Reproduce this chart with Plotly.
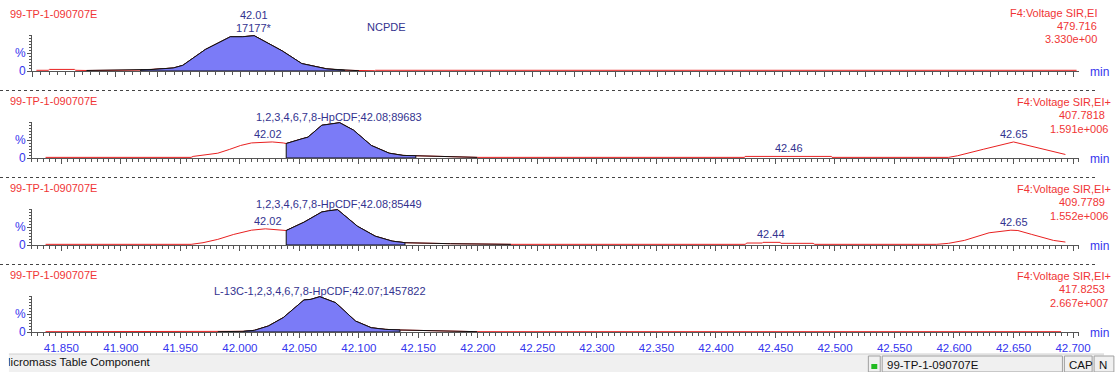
import numpy as np
import plotly.graph_objects as go

W, H = 1115, 372

# ---------------- data (retention time in min, intensity in % of panel max) -------------
p1_t = [41.829, 41.839, 41.840, 41.861, 41.862, 41.871, 41.9166, 41.927, 41.944, 41.952,
        41.971, 41.992, 42.002, 42.012, 42.0355, 42.052, 42.073, 42.088, 42.100, 42.113,
        42.114, 42.703]
p1_v = [2.0, 2.0, 4.5, 4.5, 2.0, 1.5, 2.5, 4.5, 8.5, 16.0,
        61.0, 97.0, 97.0, 100.0, 57.0, 21.0, 6.0, 2.0, 0.8, 0.8,
        2.0, 2.0]

p2_t = [41.8367, 41.959, 41.9607, 41.9706, 41.9814, 41.9914, 42.0006, 42.0097, 42.0197,
        42.0272, 42.0364, 42.0389, 42.0522, 42.0572, 42.0688, 42.0763, 42.0838, 42.0954,
        42.1104, 42.1254, 42.137, 42.1478, 42.177, 42.1994, 42.424, 42.4245, 42.497,
        42.4975, 42.5954, 42.603, 42.625, 42.650, 42.6936]
p2_v = [1.8, 1.8, 4.5, 8.2, 13.6, 24.5, 35.5, 42.7, 45.5,
        45.5, 42.7, 41.0, 54.5, 59.0, 92.7, 97.0, 100.0, 79.0,
        35.5, 13.6, 7.3, 6.4, 2.7, 1.8, 1.8, 4.5, 4.5,
        1.8, 1.8, 6.4, 25.0, 45.5, 10.0]

p3_t = [41.8367, 41.959, 41.969, 41.9814, 41.9948, 42.0097, 42.0214, 42.0289, 42.0389,
        42.0538, 42.0688, 42.0746, 42.0821, 42.0988, 42.1137, 42.1279, 42.1387, 42.177,
        42.2277, 42.4245, 42.426, 42.439, 42.4395, 42.454, 42.4545, 42.4816, 42.483,
        42.5854, 42.5954, 42.6087, 42.6295, 42.6478, 42.6537, 42.6653, 42.6836, 42.6936]
p3_v = [1.9, 1.9, 6.5, 15.9, 30.0, 42.0, 45.8, 44.0, 41.0,
        64.5, 93.5, 97.0, 100.0, 53.0, 25.0, 11.0, 6.5, 3.7,
        1.9, 1.9, 5.6, 5.6, 7.5, 7.5, 4.7, 4.7, 1.9,
        1.9, 4.7, 13.0, 34.6, 42.0, 41.0, 30.0, 13.0, 8.4]

p4_t = [41.8367, 41.9814, 42.003, 42.0122, 42.0239, 42.0364, 42.0538, 42.0597, 42.0671,
        42.0804, 42.0971, 42.1104, 42.122, 42.1345, 42.162, 42.1994, 42.690]
p4_v = [0.9, 0.9, 1.9, 4.7, 17.0, 40.6, 90.6, 92.5, 100.0,
        83.0, 31.0, 12.0, 7.5, 5.7, 3.8, 0.9, 0.9]

# integration windows: (fill start, fill end, black baseline start, black baseline end)
p1_int = (41.9166, 42.088, 41.871, 42.100)
p2_int = (42.0389, 42.1478, 42.0389, 42.1994)
p3_int = (42.0389, 42.1387, 42.0389, 42.2277)
p4_int = (42.003, 42.1345, 41.9814, 42.1994)

sample = "99-TP-1-090707E"
func = ["F4:Voltage SIR,EI", "F4:Voltage SIR,EI+", "F4:Voltage SIR,EI+", "F4:Voltage SIR,EI+"]
masses = ["479.716", "407.7818", "409.7789", "417.8253"]
maxint = ["3.330e+00", "1.591e+006", "1.552e+006", "2.667e+007"]
peak_labels = [["42.01", "17177*"],
               ["1,2,3,4,6,7,8-HpCDF;42.08;89683"],
               ["1,2,3,4,6,7,8-HpCDF;42.08;85449"],
               ["L-13C-1,2,3,4,6,7,8-HpCDF;42.07;1457822"]]
minor_peaks = [[], [("42.02", 42.0235, 45.5), ("42.46", 42.461, 4.5), ("42.65", 42.650, 45.5)],
               [("42.02", 42.0235, 45.8), ("42.44", 42.4465, 7.5), ("42.65", 42.650, 42.0)], []]
x_ticks_lab = [41.85 + 0.05 * i for i in range(18)]
status_text = "Micromass Table Component"

# ---------------- styling ----------------
FONT = "Liberation Sans, Arial, sans-serif"
RED_T = "#f03535"
RED_L = "#e82020"
NAVY = "#33338f"
BLUE = "#3535ee"
AXC = "#555555"
FILL = "#7b7bf7"

X0 = 41.85 + (32 - 62) / 1202.0
X1 = 41.85 + (1090 - 62) / 1202.0

zero_px = [71, 158, 245, 332]
top_px = [35, 122, 209, 296]


def py(p):
    return 1 - p / H


def px(p):
    return p / W


def seg(t, v, a, b):
    t = np.asarray(t, float)
    v = np.asarray(v, float)
    inner = (t > a) & (t < b)
    xs = [a] + list(t[inner]) + [b]
    ys = [float(np.interp(a, t, v))] + list(v[inner]) + [float(np.interp(b, t, v))]
    return xs, ys


def note(text, x, y, color, xanchor="left", size=11, xref="paper", yref="paper", **kw):
    d = dict(text=text, x=x, y=y, xref=xref, yref=yref, xanchor=xanchor, yanchor="middle",
             showarrow=False, font=dict(family=FONT, size=size, color=color))
    d.update(kw)
    return d


fig = go.Figure()
panels = [(p1_t, p1_v, p1_int), (p2_t, p2_v, p2_int), (p3_t, p3_v, p3_int), (p4_t, p4_v, p4_int)]
layout = {}
annotations = []
shapes = []

for i, (t, v, (f0, f1, b0, b1)) in enumerate(panels):
    k = "" if i == 0 else str(i + 1)
    xr, yr = "x" + k, "y" + k
    fig.add_trace(go.Scatter(x=t, y=v, mode="lines", line=dict(color=RED_L, width=1),
                             xaxis=xr, yaxis=yr, hoverinfo="skip", showlegend=False))
    bx, by = seg(t, v, b0, b1)
    fig.add_trace(go.Scatter(x=bx, y=by, mode="lines", line=dict(color="#111111", width=1),
                             xaxis=xr, yaxis=yr, hoverinfo="skip", showlegend=False))
    fx, fy = seg(t, v, f0, f1)
    fig.add_trace(go.Scatter(x=[f0] + fx + [f1, f0], y=[0] + fy + [0, 0], mode="lines",
                             fill="toself", fillcolor=FILL, line=dict(color="#111111", width=1),
                             xaxis=xr, yaxis=yr, hoverinfo="skip", showlegend=False))

    bottom = (i == 3)
    xa = dict(range=[X0, X1], domain=[px(32), px(1090)], anchor=yr, showline=True,
              linecolor=AXC, linewidth=1, ticks="outside", ticklen=5, tickcolor=AXC,
              showgrid=False, zeroline=False, fixedrange=True,
              minor=dict(ticks="outside", ticklen=3, tickcolor=AXC, showgrid=False))
    if i == 0:
        xa.update(tickmode="linear", tick0=41.8608, dtick=0.035, showticklabels=False)
        xa["minor"].update(dtick=0.007, tick0=41.8608)
    else:
        xa.update(tickmode="array", tickvals=x_ticks_lab, showticklabels=bottom,
                  tickformat=".3f", tickfont=dict(family=FONT, size=11.5, color=BLUE))
        xa["minor"].update(dtick=0.005, tick0=41.85)
    ya = dict(range=[0, 102], domain=[py(zero_px[i]), py(top_px[i])], anchor=xr,
              showline=True, linecolor=AXC, linewidth=1, ticks="outside", ticklen=4,
              tickcolor=AXC, tickmode="array", tickvals=[0, 50], showticklabels=False,
              showgrid=False, zeroline=False, fixedrange=True,
              minor=dict(ticks="outside", ticklen=2, tickcolor=AXC, tickmode="linear",
                         tick0=0, dtick=8.5, showgrid=False))
    layout["xaxis" + k] = xa
    layout["yaxis" + k] = ya

    z = zero_px[i]
    # y-axis labels
    annotations.append(note("%", px(28), 50, BLUE, xanchor="right", size=12, yref=yr))
    annotations.append(note("0", px(28), 0, BLUE, xanchor="right", size=12, yref=yr))
    # sample name
    annotations.append(note(sample, px(8), py(z - 57), RED_T))
    # function / mass / max intensity
    if i == 0:
        for txt, dy in zip([func[i], masses[i], maxint[i]], [58, 45, 32]):
            annotations.append(note(txt, px(1110), py(z - dy), RED_T, xanchor="right"))
    else:
        for txt, dy, xl in zip([func[i], masses[i], maxint[i]], [56, 43, 29], [1025, 1068, 1058]):
            annotations.append(note(txt, px(xl), py(z - dy), RED_T))
    annotations.append(note("min", px(1099), py(z + 1), BLUE, size=12))
    if i < 3:
        shapes.append(dict(type="line", xref="paper", yref="paper", x0=0, x1=px(1108),
                           y0=py(z + 19.5), y1=py(z + 19.5),
                           line=dict(color="#444444", width=1, dash="dot")))

apex = [42.012, 42.083, 42.083, 42.067]
for i, labs in enumerate(peak_labels):
    k = "" if i == 0 else str(i + 1)
    z = zero_px[i]
    offs = [56, 43] if i == 0 else [41]
    for txt, dy in zip(labs, offs):
        annotations.append(note(txt, apex[i], py(z - dy), NAVY, xanchor="center", xref="x" + k))
annotations.append(note("NCPDE", 42.123, py(27), NAVY, xanchor="center", xref="x"))
for i, lst in enumerate(minor_peaks):
    k = "" if i == 0 else str(i + 1)
    for txt, tx, vy in lst:
        annotations.append(dict(text=txt, x=tx, xref="x" + k, y=vy, yref="y" + k,
                                xanchor="center", yanchor="bottom", yshift=0, showarrow=False,
                                font=dict(family=FONT, size=11, color=NAVY)))

# status bar
shapes.append(dict(type="rect", xref="paper", yref="paper", x0=px(9), x1=1, y0=0, y1=py(354),
                   fillcolor="#f0f0f0", line=dict(width=0), layer="below"))
shapes.append(dict(type="line", xref="paper", yref="paper", x0=px(9), x1=1, y0=py(354),
                   y1=py(354), line=dict(color="#d0d0d0", width=1)))
# status text drawn on a helper axis so that its first letter is clipped like the reference
fig.add_trace(go.Scatter(x=[-8], y=[0.5], mode="text", text=[status_text],
                         textposition="middle right", cliponaxis=True,
                         textfont=dict(family=FONT, size=11.5, color="#111111"),
                         xaxis="x5", yaxis="y5", hoverinfo="skip", showlegend=False))
layout["xaxis5"] = dict(domain=[px(9), px(860)], range=[0, 851], visible=False, fixedrange=True,
                        anchor="y5")
layout["yaxis5"] = dict(domain=[0, py(355)], range=[0, 1], visible=False, fixedrange=True,
                        anchor="x5")
for (a, b) in [(877, 889), (891, 1073), (1075, 1103), (1105, 1125)]:
    shapes.append(dict(type="rect", xref="paper", yref="paper", x0=px(a), x1=px(b),
                       y0=py(372), y1=py(356), fillcolor="#f0f0f0",
                       line=dict(color="#a0a0a0", width=1)))
shapes.append(dict(type="rect", xref="paper", yref="paper", x0=px(880), x1=px(886),
                   y0=py(369), y1=py(364), fillcolor="#22bb22", line=dict(width=0)))
annotations.append(note(sample, px(894), py(365), "#111111", size=11.5))
annotations.append(note("CAP", px(1078), py(365), "#111111", size=11.5))
annotations.append(note("N", px(1108), py(365), "#111111", size=11.5))

fig.update_layout(width=W, height=H, margin=dict(l=0, r=0, t=0, b=0),
                  paper_bgcolor="white", plot_bgcolor="rgba(0,0,0,0)",
                  annotations=annotations, shapes=shapes, showlegend=False, **layout)
fig.write_html("out.html", config={"displayModeBar": False},
               post_script="document.body.style.margin='0px';document.body.style.overflow='hidden';")
